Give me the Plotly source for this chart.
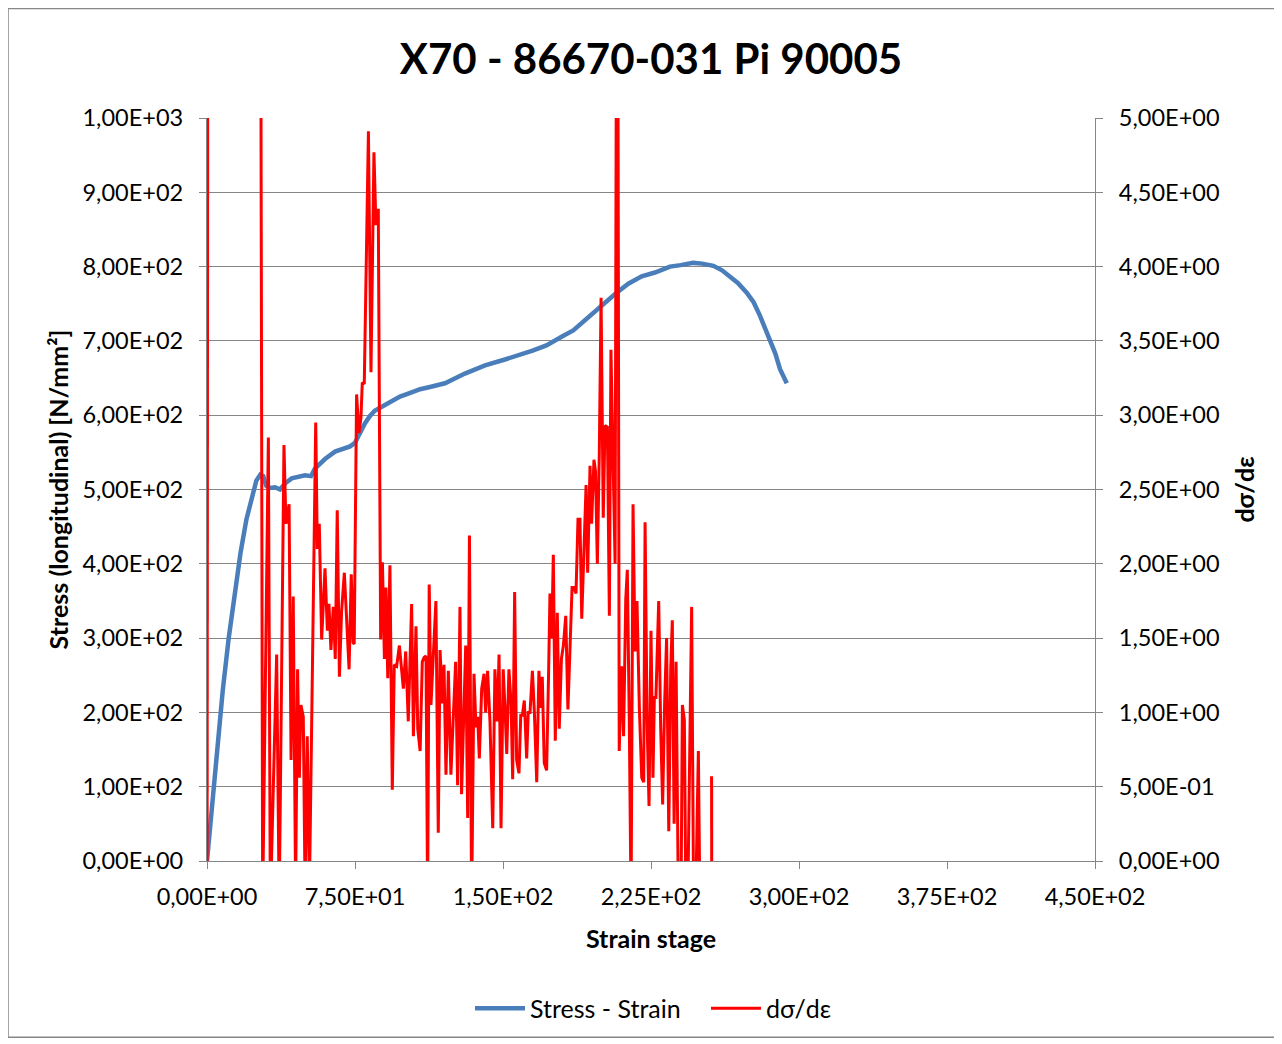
import plotly.graph_objects as go

# --- Data ---
# Stress - strain curve (left axis, N/mm²)
stress_strain = [0, 2, 5, 8, 11, 14, 17, 20, 23, 25, 27, 28.5, 30, 32, 34.5, 37, 39.5,
                 42.9, 49.7, 52.7, 54.7, 59.8, 64.9, 70, 72.5, 75, 77.5, 80, 82.6, 85,
                 87.7, 92.7, 97.8, 103, 108, 113, 120.6, 130.7, 140.9, 151, 158.6, 165,
                 172, 177, 180.6, 185.6, 189, 193.2, 200, 206.8, 213.5, 220.3, 227,
                 234.6, 240, 246.4, 251, 256.6, 261, 265, 269, 273.5, 277, 280.2, 283,
                 285.3, 288, 290.4, 293.8]
stress_value = [0, 60, 150, 230, 300, 360, 415, 460, 495, 512, 520, 518, 505, 502, 503,
                500, 508, 515, 519, 518, 528, 541, 551, 556, 558, 563, 576, 589, 599,
                606, 610, 618, 625, 630, 635, 638, 643, 656, 667, 675, 681, 687, 694,
                702, 707, 714, 722, 730, 747, 763, 777, 787, 792, 800, 802, 805, 804,
                801, 795, 787, 778, 765, 752, 734, 717, 702, 683, 662, 643]

# dσ/dε (right axis); None marks a gap in the line
deriv_strain = [0.0, 0.5, 13.0,
                26.9, 28.2, 31.1, 32.1, 35.3, 36.6, 39.0, 40.0, 41.6, 42.6, 43.7, 44.9,
                45.9, 46.8, 47.6, 48.8, 49.7, 50.8, 51.9, 55.1, 55.9, 56.9, 58.1, 59.8,
                61.0, 61.8, 62.8, 64.0, 65.0, 66.0, 67.1, 68.2, 69.6, 70.6, 72.0, 73.1,
                74.0, 74.6, 75.8, 77.0, 78.0, 78.7, 79.7, 81.8, 83.1, 84.6, 85.6, 86.8,
                88.0, 88.9, 89.9, 90.7, 91.6, 92.7, 93.9, 94.9, 96.1, 97.5, 98.6, 99.5,
                100.7, 102.0, 103.7, 104.6, 105.9, 106.8, 108.0, 109.1, 110.0, 111.0,
                111.8, 112.6, 113.5, 114.7, 116.0, 117.2, 118.1, 119.3, 120.1, 121.1,
                122.3, 123.6, 124.8, 126.0, 127.0, 128.2, 129.0, 130.2, 131.1, 132.1,
                133.0, 134.1, 135.3, 136.3, 137.2, 138.0, 139.2, 140.4, 141.2, 142.2,
                143.4, 144.8, 145.9, 147.1, 148.0, 149.0, 150.1, 151.0, 151.9, 153.0,
                154.1, 154.9, 155.9, 156.9, 158.1, 159.0, 159.8, 160.8, 162.0, 162.8,
                163.7, 164.9, 165.9, 167.1, 168.2, 169.1, 169.9, 170.9, 172.1, 173.1,
                173.8, 174.7, 175.5, 176.5, 177.5, 178.5, 179.6, 180.6, 181.8, 182.9,
                184.0, 185.0, 186.0, 187.0, 188.0, 189.0, 189.9, 191.0, 192.1, 192.9,
                194.1, 194.9, 196.1, 196.9, 197.8, 198.8, 199.7, 200.8, 201.7, 202.9,
                203.9, 204.7, 205.9, 206.8, 207.9, 208.9, 210.1, 211.1, 212.2, 213.0,
                214.0, 214.9, 215.9, 216.9, 217.9, 219.1, 220.3, 221.3, 222.0, 223.0,
                224.0, 225.0, 226.0, 226.7, 227.5, 228.9, 229.9, 230.9, 231.9, 232.9,
                234.0, 235.0, 235.8, 236.7, 237.7, 238.9, 240.2, 240.9, 241.9, 242.7,
                243.6, 244.4, 245.6, 246.6, 247.6, 249.0, 249.8, 252.0,
                255.7, 256.0]
deriv_value = [-1.0, 8.0, None,
               8.0, -0.3, 2.85, -0.3, 1.39, -0.3, 2.80, 2.27, 2.40, 0.68, 1.78, -0.2,
               1.29, 0.56, 1.05, 0.97, -0.2, 0.84, -0.2, 2.95, 2.10, 2.27, 1.49, 1.97,
               1.55, 1.73, 1.42, 1.71, 1.36, 2.36, 1.24, 1.68, 1.94, 1.65, 1.29, 1.93,
               1.47, 1.46, 3.14, 2.88, 2.98, 3.22, 3.21, 4.91, 3.29, 4.77, 4.28, 4.39,
               1.49, 2.01, 1.36, 1.84, 1.23, 1.99, 0.48, 1.32, 1.31, 1.45, 1.29, 1.16,
               1.41, 0.94, 1.73, 0.84, 1.58, 0.89, 0.74, 1.34, 1.37, 1.38,
               -0.3, 1.86, 1.05, 1.42, 1.75, 0.19, 1.42, 1.06, 1.32, 0.58,
               1.28, 0.58, 1.00, 1.34, 0.51, 1.71, 0.45, 1.02, 1.45, 0.29,
               2.19, -0.3, 1.26, 0.90, 0.97, 0.69, 1.16, 1.26, 1.00, 1.28,
               0.94, 0.22, 1.29, 0.94, 1.39, 0.22, 1.29, 1.03, 0.72, 1.29,
               1.06, 0.55, 1.81, 0.68, 0.59, 0.98, 0.98, 1.08, 0.69, 1.00,
               1.00, 1.28, 1.00, 0.53, 1.28, 1.03, 1.24, 0.66, 0.61, 1.26,
               1.80, 1.50, 2.06, 0.81, 1.67, 0.89, 1.36, 1.45, 1.65, 1.02,
               1.49, 1.84, 1.84, 1.80, 2.30, 2.30, 1.63, 2.06, 2.53, 1.94,
               2.66, 2.27, 2.70, 2.62, 2.00, 2.74, 3.79, 2.31, 2.93, 2.92,
               1.65, 3.44, 2.62, 2.00, 8.0, 0.74, 1.31, 0.84, 1.76, 1.96,
               0.94, -0.3, 2.40, 1.41, 1.75, 1.03, 0.56, 0.53, 2.28, 0.95,
               0.37, 1.55, 0.56, 1.10, 1.10, 1.75, 0.90, 0.38, 1.06, 1.50,
               0.20, 1.29, 1.62, 0.25, 1.34, -0.3, -0.3, 1.05, 0.95, -0.3,
               -0.3, 0.51, 1.71, -0.3, -0.3, 0.74, -0.3, None,
               0.57, -2.0]

x_ticks = [0, 75, 150, 225, 300, 375, 450]
y_ticks = [0, 100, 200, 300, 400, 500, 600, 700, 800, 900, 1000]
y2_ticks = [0, 0.5, 1, 1.5, 2, 2.5, 3, 3.5, 4, 4.5, 5]


def excel_sci(v):
    # Excel-style "1,00E+03"
    return f"{v:.2E}".replace(".", ",")


FONT = "Lato"
AX = "#868686"

# page has an 8px body margin, so the figure is slightly smaller than the window
W, H = 1274, 1036
ML, MT, PW, PH = 199, 110, 888, 746

fig = go.Figure()
fig.add_trace(go.Scatter(
    x=stress_strain, y=stress_value, mode="lines", name="Stress - Strain",
    line=dict(color="#4A7EBB", width=4.5),
))
fig.add_trace(go.Scatter(
    x=deriv_strain, y=deriv_value, mode="lines", name="dσ/dε", yaxis="y2",
    line=dict(color="#FF0000", width=3), connectgaps=False,
))

axis_common = dict(
    showline=True, linecolor=AX, linewidth=1.3,
    ticks="outside", ticklen=7, tickcolor=AX, tickwidth=1.3,
    zeroline=False, tickfont=dict(family=FONT, size=23.5, color="#000"),
)

fig.update_layout(
    width=W, height=H,
    paper_bgcolor="white", plot_bgcolor="white",
    margin=dict(l=ML, r=W - ML - PW, t=MT, b=H - MT - PH),
    font=dict(family=FONT, color="#000"),
    title=dict(
        text="<b>X70 - 86670-031 Pi 90005</b>",
        font=dict(family=FONT, size=42, color="#000"),
        x=0.5, xref="paper", y=1 - 51 / H, yref="container", yanchor="middle",
    ),
    xaxis=dict(
        range=[0, 450], tickvals=x_ticks, ticktext=[excel_sci(v) for v in x_ticks],
        showgrid=False, ticklabelstandoff=8,
        title=dict(text="<b>Strain stage</b>", font=dict(family=FONT, size=25), standoff=21),
        **axis_common,
    ),
    yaxis=dict(
        range=[0, 1000], tickvals=y_ticks, ticktext=[excel_sci(v) for v in y_ticks],
        showgrid=True, gridcolor=AX, gridwidth=1.3, ticklabelstandoff=11,
        title=dict(text="<b>Stress (longitudinal) [N/mm²]</b>",
                   font=dict(family=FONT, size=25), standoff=6),
        **axis_common,
    ),
    yaxis2=dict(
        range=[0, 5], tickvals=y2_ticks, ticktext=[excel_sci(v) for v in y2_ticks],
        overlaying="y", side="right", showgrid=False, ticklabelstandoff=11,
        title=dict(text="<b>dσ/dε</b>", font=dict(family=FONT, size=25), standoff=17),
        **axis_common,
    ),
    legend=dict(
        orientation="h", x=(476 - 6 - 8 - ML) / PW, xanchor="left",
        y=(PH + MT - 1004) / PH, yanchor="middle",
        font=dict(family=FONT, size=25), bgcolor="rgba(0,0,0,0)",
        itemwidth=50, entrywidth=171,
    ),
    showlegend=True,
    shapes=[dict(
        type="rect", xref="paper", yref="paper",
        x0=-ML / PW, x1=(1270 - ML) / PW,
        y0=(MT + PH - 1033) / PH, y1=1 + MT / PH,
        line=dict(color=AX, width=1.5), fillcolor="rgba(0,0,0,0)", layer="below",
    )],
)

fig.write_html("out.html")
